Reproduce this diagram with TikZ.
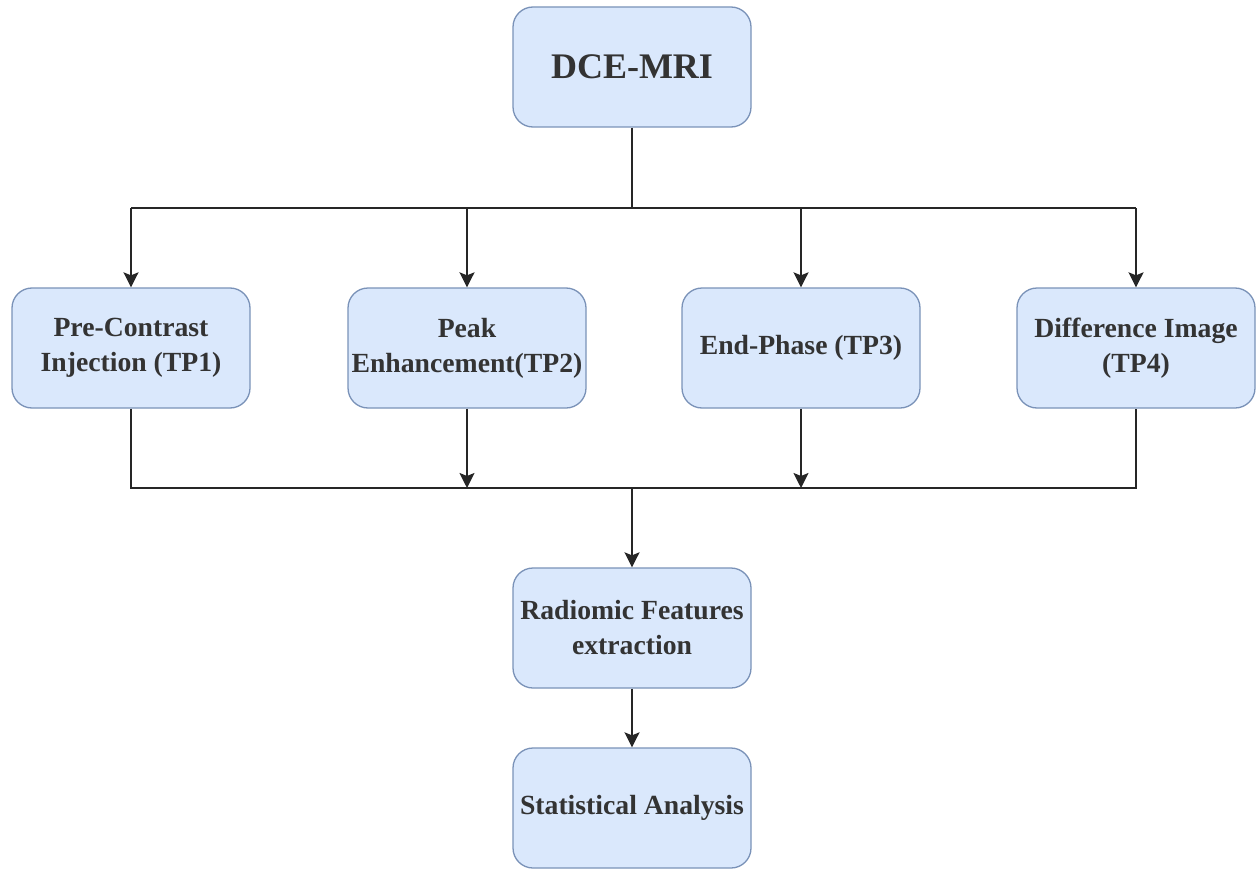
\documentclass[tikz,border=0pt]{standalone}
\usepackage{fontspec}
\setmainfont{Liberation Serif}
\usetikzlibrary{arrows.meta}
\definecolor{boxfill}{HTML}{DAE8FC}
\definecolor{boxline}{HTML}{7A92B8}
\definecolor{txt}{HTML}{333333}
\begin{document}
\begin{tikzpicture}[x=1pt,y=-1pt,
  box/.style={draw=boxline,line width=1.3pt,fill=boxfill,rounded corners=20pt,
    minimum width=238pt,minimum height=120pt,align=center,text=txt,
    font=\bfseries\fontsize{27.7}{35}\selectfont,inner sep=0pt},
  conn/.style={line width=2pt,black!85},
  arr/.style={conn,-{Stealth[length=15pt,width=15pt,inset=3pt]}}]
\useasboundingbox (0,0) rectangle (1257,869);
\node[box,font=\bfseries\fontsize{36}{40}\selectfont] (dce) at (632,67) {DCE-MRI};
\node[box] (tp1) at (131,348) {Pre-Contrast\\Injection (TP1)};
\node[box] (tp2) at (467,348) {Peak\\Enhancement(TP2)};
\node[box] (tp3) at (801,348) {End-Phase (TP3)};
\node[box] (tp4) at (1136,348) {Difference Image\\(TP4)};
\node[box] (rad) at (632,628) {Radiomic Features\\extraction};
\node[box] (stat) at (632,808) {Statistical Analysis};
\coordinate (top) at (632,208);
\coordinate (bot) at (632,488);
\draw[conn] (dce.south) -- (top);
\draw[conn] (tp1.north |- top) -- (tp4.north |- top);
\draw[arr] (tp1.north |- top) -- (tp1.north);
\draw[arr] (tp2.north |- top) -- (tp2.north);
\draw[arr] (tp3.north |- top) -- (tp3.north);
\draw[arr] (tp4.north |- top) -- (tp4.north);
\draw[conn] (tp1.south) -- (tp1.south |- bot) -- (tp4.south |- bot) -- (tp4.south);
\draw[arr] (tp2.south) -- (tp2.south |- bot);
\draw[arr] (tp3.south) -- (tp3.south |- bot);
\draw[arr] (bot) -- (rad.north);
\draw[arr] (rad.south) -- (stat.north);
\end{tikzpicture}
\end{document}
